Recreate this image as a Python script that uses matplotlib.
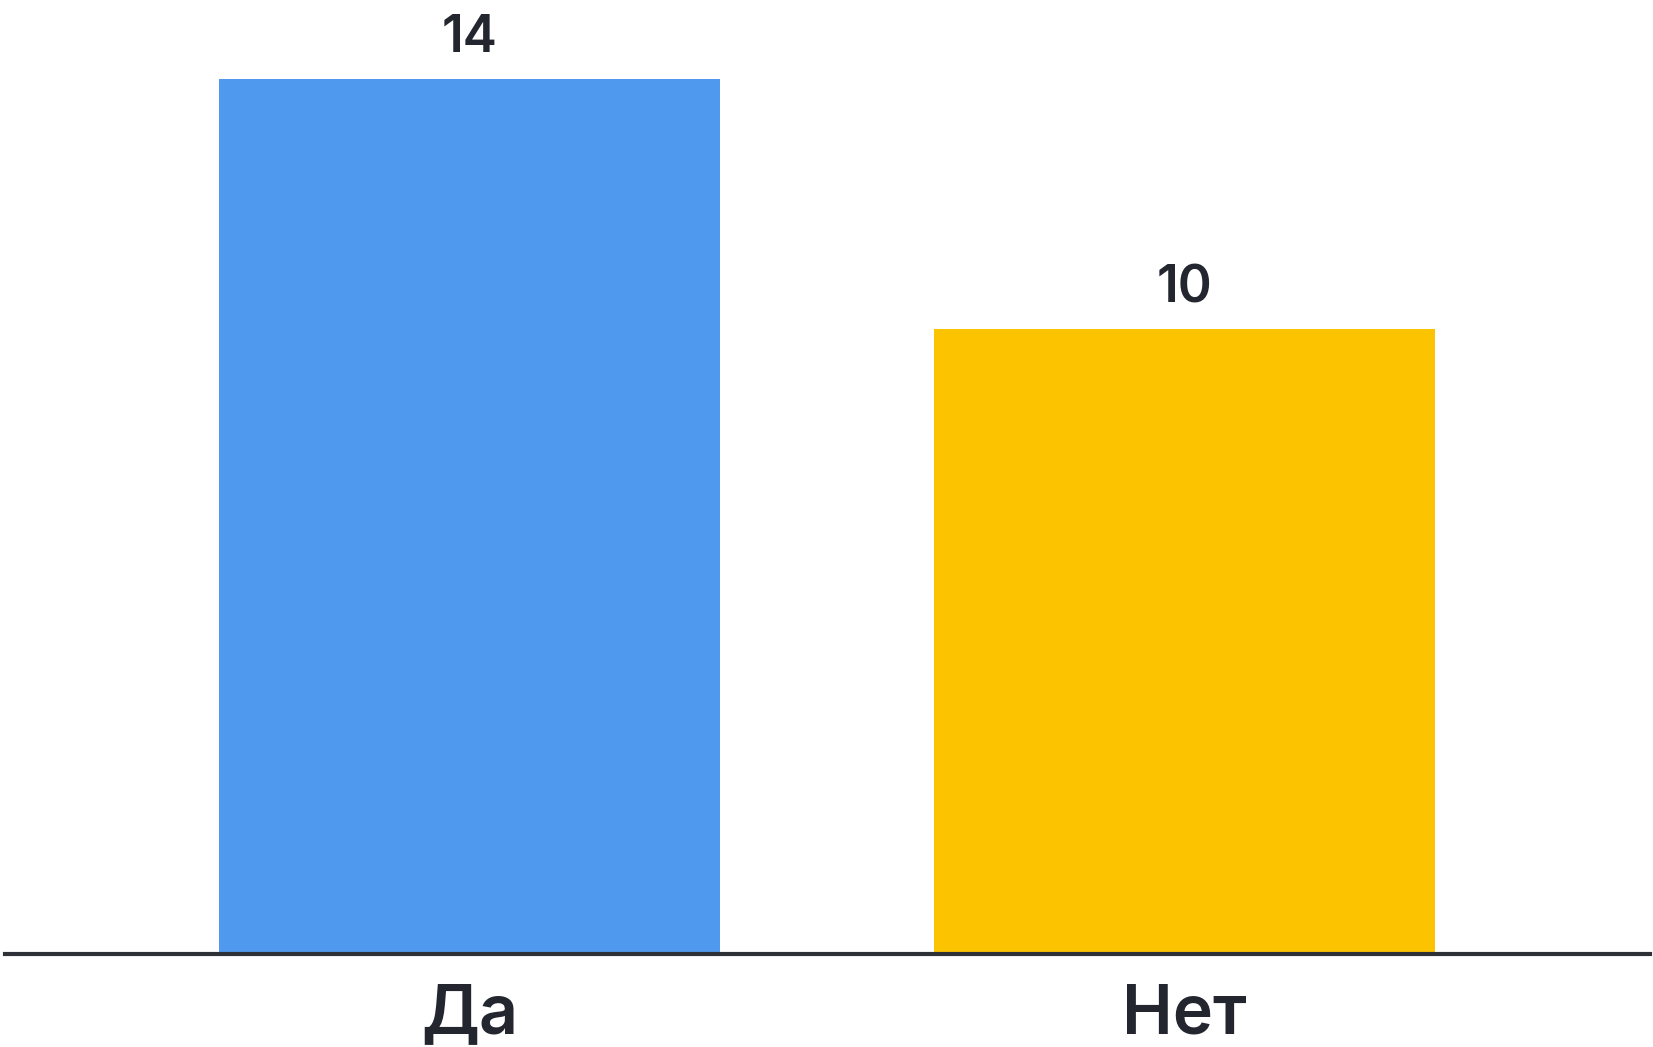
import matplotlib
matplotlib.use("Agg")
import matplotlib.pyplot as plt

# --- Data ---
categories = ["Да", "Нет"]
values = [14, 10]
bar_colors = ["#4F9AEE", "#FCC300"]

TEXT_COLOR = "#23262F"
LINE_COLOR = "#2E3138"

plt.rcParams["font.family"] = ["Inter", "DejaVu Sans"]

W, H = 1653, 1047
fig = plt.figure(figsize=(W / 100, H / 100), dpi=100)
fig.patch.set_facecolor("white")

# axes spans the full width of the baseline, bottom at the baseline
ax = fig.add_axes([5 / W, 1 - 954 / H, 1645 / W, 954 / H])

x = range(len(categories))
bars = ax.bar(x, values, width=0.701, color=bar_colors, zorder=1)

ax.set_xlim(-0.650, 1.652)
ax.set_ylim(0, 15.26)

ax.bar_label(bars, labels=[str(v) for v in values], padding=11,
             fontsize=37, fontweight="semibold", color=TEXT_COLOR)

ax.set_xticks(list(x))
ax.set_xticklabels(categories, fontsize=49, fontweight="semibold", color=TEXT_COLOR)
ax.tick_params(axis="x", length=0, pad=21)
ax.set_yticks([])

for side in ["top", "left", "right"]:
    ax.spines[side].set_visible(False)
ax.spines["bottom"].set_color(LINE_COLOR)
ax.spines["bottom"].set_linewidth(3)
ax.spines["bottom"].set_zorder(3)
ax.set_facecolor("none")

fig.savefig("out.png", dpi=100)
